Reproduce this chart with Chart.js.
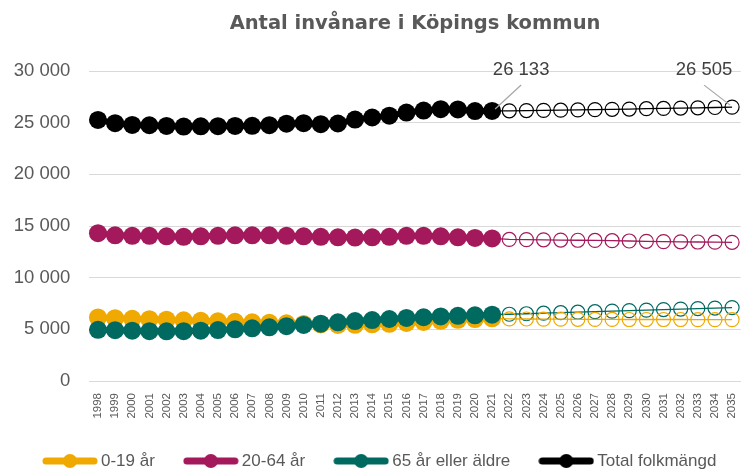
<!DOCTYPE html>
<html>
<head>
<meta charset="utf-8">
<script src="https://cdn.jsdelivr.net/npm/chart.js@4"></script>
<style>
  html, body { margin: 0; padding: 0; background: #fff; }
  #wrap { width: 750px; height: 470px; }
</style>
</head>
<body>
<div id="wrap"><canvas id="chart" width="750" height="470"></canvas></div>
<script>
const years = ['1998','1999','2000','2001','2002','2003','2004','2005','2006','2007','2008','2009','2010',
  '2011','2012','2013','2014','2015','2016','2017','2018','2019','2020','2021','2022','2023','2024',
  '2025','2026','2027','2028','2029','2030','2031','2032','2033','2034','2035'];

// 1998-2021, utfall
const age0_19 = [6150, 6080, 6020, 5980, 5930, 5880, 5830, 5780, 5730, 5680, 5630, 5580, 5520,
  5470, 5430, 5440, 5480, 5530, 5620, 5720, 5820, 5920, 5990, 6070];
const age20_64 = [14300, 14100, 14050, 14050, 14000, 13950, 14000, 14050, 14100, 14100, 14100, 14050, 14000,
  13950, 13900, 13880, 13900, 13950, 14050, 14050, 14000, 13900, 13850, 13800];
const age65 = [4950, 4920, 4870, 4820, 4810, 4820, 4870, 4930, 5000, 5100, 5200, 5300, 5430,
  5550, 5680, 5800, 5900, 6000, 6100, 6170, 6250, 6310, 6360, 6420];
const total = [25270, 24950, 24780, 24750, 24680, 24620, 24650, 24660, 24680, 24700, 24760, 24900, 24950,
  24850, 24920, 25300, 25500, 25680, 25980, 26170, 26300, 26280, 26120, 26133];

// 2022-2035, prognos
const prog0_19 = [6010, 6000, 5990, 5980, 5970, 5960, 5960, 5950, 5950, 5950, 5950, 5940, 5940, 5940];
const prog20_64 = [13700, 13680, 13660, 13640, 13620, 13600, 13580, 13550, 13520, 13490, 13470, 13450, 13430, 13420];
const prog65 = [6460, 6510, 6560, 6610, 6660, 6710, 6760, 6810, 6860, 6910, 6960, 7010, 7060, 7110];
const progTotal = [26150, 26170, 26190, 26210, 26240, 26260, 26290, 26320, 26350, 26380, 26410, 26440, 26470, 26505];

const names = ['0-19 år', '20-64 år', '65 år eller äldre', 'Total folkmängd'];
const colors = ['#EFA900', '#A3195B', '#006A60', '#000000'];

const TEXT = '#595959';
const GRID = '#d9d9d9';

function histData(arr) {
  return arr.concat(new Array(years.length - arr.length).fill(null));
}
function progData(hist, prog) {
  // börjar i sista utfallsåret så att linjen hänger ihop
  return new Array(hist.length - 1).fill(null).concat([hist[hist.length - 1]], prog);
}

function legendIcon(color) {
  const c = document.createElement('canvas');
  c.width = 56; c.height = 16;
  const g = c.getContext('2d');
  g.strokeStyle = color;
  g.lineWidth = 7;
  g.lineCap = 'round';
  g.beginPath(); g.moveTo(4, 8); g.lineTo(52, 8); g.stroke();
  g.fillStyle = color;
  g.beginPath(); g.arc(28, 8, 7, 0, Math.PI * 2); g.fill();
  return c;
}

const hist = [age0_19, age20_64, age65, total];
const prog = [prog0_19, prog20_64, prog65, progTotal];
const drawOrder = [4, 3, 2, 1];

const datasets = [];
hist.forEach((arr, i) => {
  datasets.push({
    label: names[i],
    data: histData(arr),
    borderColor: colors[i],
    backgroundColor: colors[i],
    borderWidth: 6,
    pointRadius: 9,
    pointBorderWidth: 0,
    pointStyle: 'circle',
    order: drawOrder[i],
    legendIcon: legendIcon(colors[i])
  });
});
prog.forEach((arr, i) => {
  datasets.push({
    label: names[i] + ' prognos',
    data: progData(hist[i], arr),
    borderColor: colors[i],
    backgroundColor: 'rgba(0,0,0,0)',
    borderWidth: 1.3,
    pointRadius: (ctx) => ctx.dataIndex < hist[i].length ? 0 : 7,
    pointBorderWidth: 1.2,
    pointBorderColor: colors[i],
    pointBackgroundColor: 'rgba(0,0,0,0)',
    order: 5 + i,
    isPrognos: true
  });
});

function spaced(v) {
  return String(v).replace(/\B(?=(\d{3})+(?!\d))/g, ' ');
}

const titleAndLabels = {
  id: 'titleAndLabels',
  afterDraw(chart) {
    const ctx = chart.ctx;
    const area = chart.chartArea;
    ctx.save();
    ctx.fillStyle = TEXT;
    ctx.font = 'bold 19.5px "DejaVu Sans"';
    ctx.textAlign = 'center';
    ctx.textBaseline = 'middle';
    ctx.fillText('Antal invånare i Köpings kommun', (area.left + area.right) / 2, 24);

    const marks = [
      { ds: 3, idx: total.length - 1, dx: 29, dy: -41, value: total[total.length - 1] },
      { ds: 7, idx: years.length - 1, dx: -28, dy: -37, value: progTotal[progTotal.length - 1] }
    ];
    marks.forEach(m => {
      const pt = chart.getDatasetMeta(m.ds).data[m.idx];
      const tx = pt.x + m.dx, ty = pt.y + m.dy;
      ctx.strokeStyle = '#a6a6a6';
      ctx.lineWidth = 1.2;
      ctx.beginPath();
      ctx.moveTo(tx, ty + 15);
      ctx.lineTo(pt.x + (m.dx > 0 ? 3 : -2), pt.y - 2);
      ctx.stroke();
      ctx.fillStyle = '#404040';
      ctx.font = '18.5px "Liberation Sans", Arial, sans-serif';
      ctx.fillText(spaced(m.value), tx, ty);
    });
    ctx.restore();
  }
};

new Chart(document.getElementById('chart'), {
  type: 'line',
  data: { labels: years, datasets: datasets },
  options: {
    responsive: false,
    animation: false,
    spanGaps: false,
    layout: { padding: { top: 71, left: 14, right: -10, bottom: 0 } },
    scales: {
      x: {
        offset: true,
        grid: { display: false },
        border: { color: GRID, width: 1 },
        ticks: {
          color: TEXT,
          autoSkip: false,
          minRotation: 90,
          maxRotation: 90,
          padding: 4,
          font: { family: '"Liberation Sans", Arial, sans-serif', size: 11.5 }
        },
        afterFit(scale) { scale.height = 38; }
      },
      y: {
        min: 0,
        max: 30000,
        grid: { color: GRID, lineWidth: 1, drawTicks: false },
        border: { display: false },
        ticks: {
          stepSize: 5000,
          color: TEXT,
          padding: 19,
          font: { family: '"Liberation Sans", Arial, sans-serif', size: 18.5 },
          callback: (v) => spaced(v)
        },
        afterFit(scale) { scale.width = 75.4; }
      },
      // tom axel till höger, håller ritytan på plats
      yRight: {
        position: 'right',
        grid: { display: false },
        border: { display: false },
        ticks: { display: false },
        afterFit(scale) { scale.width = 18.4; }
      }
    },
    plugins: {
      title: { display: false },
      tooltip: { enabled: false },
      legend: {
        position: 'bottom',
        align: 'start',
        maxHeight: 51,
        labels: {
          usePointStyle: true,
          pointStyleWidth: 45,
          boxHeight: 17,
          padding: 33.5,
          color: TEXT,
          font: { family: '"Liberation Sans", Arial, sans-serif', size: 17 },
          filter: (item, data) => !data.datasets[item.datasetIndex].isPrognos,
          sort: (a, b) => a.datasetIndex - b.datasetIndex,
          generateLabels(chart) {
            const items = Chart.defaults.plugins.legend.labels.generateLabels(chart);
            items.forEach(it => {
              const ds = chart.data.datasets[it.datasetIndex];
              if (ds.legendIcon) it.pointStyle = ds.legendIcon;
              it.fontColor = TEXT;
            });
            return items;
          }
        }
      }
    }
  },
  plugins: [titleAndLabels]
});
</script>
</body>
</html>
